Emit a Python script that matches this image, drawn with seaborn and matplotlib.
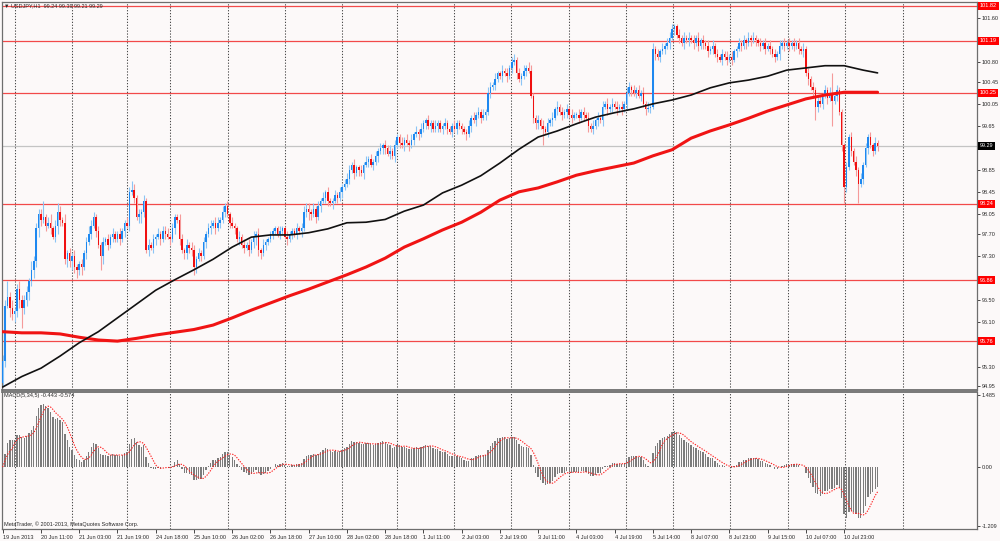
import numpy as np
import pandas as pd
import seaborn as sns
import matplotlib
matplotlib.use("Agg")
import matplotlib.pyplot as plt
import matplotlib.transforms as mtrans

# hourly closes, one row per 16 bars (one x label interval)
close_blocks = [
    [95.40, 96.40, 96.55, 96.35, 96.25, 96.30, 96.70, 96.50, 96.35, 96.50, 96.65, 96.85, 97.05, 97.20, 97.80, 98.05],
    [97.95, 98.00, 97.85, 97.90, 97.80, 97.65, 97.85, 98.10, 97.95, 97.90, 97.25, 97.35, 97.20, 97.30, 97.10, 97.05],
    [97.15, 97.10, 97.35, 97.55, 97.70, 97.85, 98.00, 97.75, 97.50, 97.30, 97.55, 97.60, 97.50, 97.65, 97.70, 97.60],
    [97.70, 97.60, 97.75, 97.90, 97.85, 98.45, 98.50, 98.35, 98.00, 98.05, 98.10, 98.30, 97.40, 97.50, 97.45, 97.60],
    [97.65, 97.70, 97.60, 97.75, 97.70, 97.65, 97.60, 97.80, 98.00, 97.95, 97.60, 97.40, 97.35, 97.50, 97.45, 97.40],
    [97.10, 97.25, 97.35, 97.30, 97.55, 97.70, 97.80, 97.85, 97.90, 97.80, 97.90, 97.95, 98.10, 98.20, 98.05, 97.90],
    [97.85, 97.80, 97.60, 97.65, 97.50, 97.45, 97.50, 97.40, 97.55, 97.65, 97.70, 97.40, 97.35, 97.50, 97.55, 97.60],
    [97.70, 97.75, 97.80, 97.70, 97.75, 97.80, 97.65, 97.60, 97.70, 97.75, 97.70, 97.80, 97.75, 97.80, 98.10, 98.15],
    [98.10, 98.05, 98.15, 98.00, 98.20, 98.30, 98.35, 98.45, 98.30, 98.25, 98.30, 98.40, 98.35, 98.45, 98.55, 98.60],
    [98.70, 98.85, 98.95, 98.80, 98.90, 98.85, 98.80, 98.95, 99.00, 99.05, 98.95, 99.00, 99.10, 99.20, 99.25, 99.30],
    [99.25, 99.15, 99.20, 99.10, 99.30, 99.45, 99.35, 99.30, 99.40, 99.35, 99.30, 99.40, 99.50, 99.55, 99.50, 99.60],
    [99.70, 99.75, 99.65, 99.70, 99.60, 99.65, 99.70, 99.60, 99.65, 99.70, 99.60, 99.55, 99.65, 99.60, 99.70, 99.65],
    [99.60, 99.55, 99.50, 99.65, 99.80, 99.75, 99.85, 99.90, 99.80, 99.85, 99.90, 100.25, 100.35, 100.40, 100.50, 100.60],
    [100.55, 100.65, 100.60, 100.55, 100.70, 100.80, 100.85, 100.60, 100.50, 100.55, 100.65, 100.70, 100.65, 100.20, 99.80, 99.70],
    [99.75, 99.65, 99.60, 99.55, 99.70, 99.75, 99.80, 99.95, 100.00, 99.90, 99.85, 99.90, 99.95, 99.85, 99.80, 99.85],
    [99.85, 99.80, 99.90, 99.85, 99.80, 99.65, 99.60, 99.65, 99.75, 99.80, 99.75, 100.00, 100.05, 99.95, 100.00, 100.05],
    [100.00, 99.95, 100.00, 99.95, 100.05, 100.25, 100.35, 100.30, 100.25, 100.30, 100.20, 100.25, 100.05, 99.95, 99.98, 100.00],
    [101.05, 100.95, 100.90, 101.00, 101.05, 101.10, 101.15, 101.25, 101.40, 101.45, 101.30, 101.25, 101.15, 101.25, 101.20, 101.25],
    [101.20, 101.15, 101.25, 101.10, 101.20, 101.15, 101.10, 101.00, 101.05, 101.10, 100.95, 100.90, 100.85, 100.95, 100.90, 100.85],
    [100.90, 100.85, 101.00, 101.05, 101.15, 101.10, 101.20, 101.15, 101.25, 101.20, 101.25, 101.20, 101.15, 101.10, 101.15, 101.05],
    [101.10, 101.05, 100.95, 100.90, 100.95, 101.10, 101.15, 101.10, 101.15, 101.10, 101.15, 101.10, 101.15, 101.05, 101.00, 101.05],
    [100.60, 100.50, 100.35, 100.30, 100.00, 100.10, 100.05, 100.20, 100.30, 100.15, 100.25, 100.10, 100.20, 100.30, 99.90, 99.30],
    [98.55, 98.90, 99.45, 99.20, 99.00, 98.85, 98.60, 98.70, 98.95, 99.25, 99.45, 99.30, 99.20, 99.35, 99.29],
]
first_open = 95.00

# wick lengths beyond the body, in steps of 0.05
wick_step = 0.05
hi_wicks = [
    "2262312322213222", "2612312321312121", "1212322121212121", "1211223212121212",
    "1212221211221212", "2121212212212121", "2112121212121211", "1111211211121222",
    "2121212121121212", "2212112121212121", "2121211212121212", "1121121112111211",
    "1112121212122121", "1212122121212211", "2121212121212121", "1212121212121212",
    "1212122121212121", "2121212221121212", "1212121212121212", "1211212121211212",
    "1212121212121212", "1212122121271211", "121212121212121",
]
lo_wicks = [
    "1213232372232323", "2121212321232323", "2312121215312121", "1212121212321212",
    "2121212121212222", "3212121212121212", "1212121212322121", "1211211212121212",
    "3212121221212121", "1212121212121212", "2121212121212121", "1212112121212121",
    "2121212121212121", "1212121212121122", "2161212121212121", "1212121212121212",
    "1212121212121212", "1212121212121212", "1212121212121212", "1212121212121212",
    "1212121212121212", "1213521212191212", "621212712121212",
]

# moving averages read at every 8th bar
ma_bars = [0, 8, 16, 24, 32, 40, 48, 56, 64, 72, 80, 88, 96, 104, 112, 120, 128, 136, 144, 152, 160, 168, 176,
           184, 192, 200, 208, 216, 224, 232, 240, 248, 256, 264, 272, 280, 288, 296, 304, 312, 320, 328, 336,
           344, 352, 360, 366]
ma_black = [94.93, 95.12, 95.27, 95.49, 95.73, 95.93, 96.18, 96.43, 96.68, 96.87, 97.05, 97.24, 97.46, 97.64,
            97.68, 97.68, 97.72, 97.79, 97.90, 97.91, 97.96, 98.11, 98.22, 98.44, 98.58, 98.75, 98.98, 99.23,
            99.45, 99.56, 99.69, 99.81, 99.89, 99.96, 100.05, 100.12, 100.21, 100.34, 100.43, 100.48, 100.55,
            100.66, 100.70, 100.74, 100.74, 100.66, 100.61]
ma_red = [95.93, 95.91, 95.91, 95.89, 95.83, 95.78, 95.76, 95.81, 95.87, 95.92, 95.97, 96.05, 96.18, 96.32,
          96.45, 96.58, 96.70, 96.83, 96.96, 97.10, 97.26, 97.46, 97.61, 97.77, 97.91, 98.09, 98.31, 98.46,
          98.53, 98.64, 98.76, 98.84, 98.91, 98.98, 99.11, 99.22, 99.43, 99.56, 99.67, 99.79, 99.92, 100.03,
          100.14, 100.21, 100.26, 100.26, 100.26]

level_lines = [101.82, 101.19, 100.25, 98.24, 96.86, 95.76]
last_price = 99.29
price_ticks = [101.60, 100.80, 100.45, 100.05, 99.65, 98.85, 98.45, 98.05, 97.70, 97.30, 96.50, 96.10, 95.30, 94.95]
macd_ticks = [1.485, 0.0, -1.209]
macd_tick_labels = ["1.485", "0.00", "-1.209"]
grid_bars = [5, 28.9, 51.9, 69.9, 94.1, 118, 141.8, 164.9, 188.7, 212.6, 236.8, 260.7, 280.3, 304.2, 328.5, 352.3, 376.6]
time_labels = ["19 Jun 2013", "20 Jun 11:00", "21 Jun 03:00", "21 Jun 19:00", "24 Jun 18:00", "25 Jun 10:00",
               "26 Jun 02:00", "26 Jun 18:00", "27 Jun 10:00", "28 Jun 02:00", "28 Jun 18:00", "1 Jul 11:00",
               "2 Jul 03:00", "2 Jul 19:00", "3 Jul 11:00", "4 Jul 03:00", "4 Jul 19:00", "5 Jul 14:00",
               "8 Jul 07:00", "8 Jul 23:00", "9 Jul 15:00", "10 Jul 07:00", "10 Jul 23:00"]

# ---- build candles ----
closes = np.array([v for b in close_blocks for v in b])
n = len(closes)
hi_w = np.array([int(d) for s in hi_wicks for d in s]) * wick_step
lo_w = np.array([int(d) for s in lo_wicks for d in s]) * wick_step
assert len(hi_w) == n and len(lo_w) == n
opens = np.concatenate([[first_open], closes[:-1]])
highs = np.maximum(opens, closes) + hi_w
lows = np.minimum(opens, closes) - lo_w
idx = np.arange(n)
up = closes >= opens

df = pd.DataFrame({"bar": idx, "close": closes})
ema_fast = df["close"].ewm(span=5, adjust=False).mean()
ema_slow = df["close"].ewm(span=34, adjust=False).mean()
df["macd"] = ema_fast - ema_slow
df["signal"] = df["macd"].rolling(5, min_periods=1).mean()
ma_df = pd.DataFrame({"bar": ma_bars, "black": ma_black, "red": ma_red})

# ---- figure ----
sns.set_theme(style="white")
plt.rcParams["font.family"] = ["Liberation Sans", "DejaVu Sans"]
bg = "#fcf9f9"
txt = "#2a2a2a"
frame = "#6e6e6e"

fig = plt.figure(figsize=(10, 5.41), dpi=100, facecolor=bg)
ax = fig.add_axes([0.002, 0.2791, 0.975, 0.7172], facecolor=bg)
axm = fig.add_axes([0.002, 0.0222, 0.975, 0.2532], facecolor=bg)

for a in (ax, axm):
    for b in grid_bars:
        a.axvline(b, color="#4a4a4a", lw=0.75, ls=(0, (1.2, 1.6)), zorder=1)
    a.set_xlim(-0.3, 407.6)
    for s in a.spines.values():
        s.set_color(frame)
        s.set_linewidth(0.9)

# horizontal levels
for lv in level_lines:
    ax.axhline(lv, color="#f24a4a", lw=0.9, zorder=2)
ax.axhline(last_price, color="#c4c4c4", lw=0.9, zorder=2)

# candles
wick_col = np.where(up, "#8cc4f5", "#f59a9a")
body_col = np.where(up, "#1e88f0", "#f01010")
ax.vlines(idx, lows, highs, colors=wick_col, lw=0.8, zorder=3)
body_h = np.maximum(np.abs(closes - opens), 0.012)
ax.bar(idx, body_h, bottom=np.minimum(opens, closes), width=0.62, color=body_col, lw=0, zorder=3.5)

# moving averages
sns.lineplot(data=ma_df, x="bar", y="red", ax=ax, color="#f01414", lw=2.2, zorder=4, estimator=None)
sns.lineplot(data=ma_df, x="bar", y="black", ax=ax, color="#111111", lw=1.2, zorder=4.5, estimator=None)

ax.set_ylim(94.876, 101.892)
ax.set_xlabel("")
ax.set_ylabel("")
ax.set_xticks([])
ax.yaxis.tick_right()
ax.set_yticks(price_ticks)
ax.set_yticklabels([f"{t:.2f}" for t in price_ticks])
ax.tick_params(axis="y", right=True, left=False, labelright=True, labelleft=False, length=2,
               width=0.6, pad=1.5, labelsize=4, colors=txt)
ax.spines["bottom"].set_linewidth(1.3)

trans = mtrans.blended_transform_factory(ax.transAxes, ax.transData)
for lv in level_lines:
    ax.text(1.003, lv, f"{lv:.2f}", transform=trans, ha="left", va="center", fontsize=4, color="white",
            bbox=dict(boxstyle="square,pad=0.3", fc="#ff0000", ec="none"), zorder=6, clip_on=False)
ax.text(1.003, last_price, f"{last_price:.2f}", transform=trans, ha="left", va="center", fontsize=4,
        color="white", bbox=dict(boxstyle="square,pad=0.3", fc="#000000", ec="none"), zorder=6, clip_on=False)

# MACD panel
axm.bar(df["bar"], df["macd"], width=0.55, color="#7c7c7c", lw=0, zorder=3)
sns.lineplot(data=df, x="bar", y="signal", ax=axm, color="#ff2020", lw=0.8, ls=(0, (1.2, 1.2)),
             zorder=4, estimator=None)
axm.set_ylim(-1.276, 1.543)
axm.set_xlabel("")
axm.set_ylabel("")
axm.yaxis.tick_right()
axm.set_yticks(macd_ticks)
axm.set_yticklabels(macd_tick_labels)
axm.tick_params(axis="y", right=True, left=False, labelright=True, labelleft=False, length=2,
                width=0.6, pad=1.5, labelsize=4, colors=txt)
label_bars = [16 * i for i in range(len(time_labels))]
axm.set_xticks(label_bars)
axm.set_xticklabels(time_labels, ha="left")
axm.tick_params(axis="x", bottom=True, length=3, width=0.6, pad=1.5, labelsize=4, colors=txt)
axm.spines["top"].set_linewidth(1.3)

fig.text(0.004, 1 - 6 / 541, "\u25bc USDJPY,H1  99.24 99.39 99.21 99.29", fontsize=4, color=txt, va="center")
fig.text(0.004, 1 - 396 / 541, "MACD(5,34,5) -0.443 -0.574", fontsize=4, color=txt, va="center")
fig.text(0.004, 1 - 524 / 541, "MetaTrader, \u00a9 2001-2013, MetaQuotes Software Corp.", fontsize=4,
         color=txt, va="center")

fig.savefig("out.png", dpi=100, facecolor=bg)
